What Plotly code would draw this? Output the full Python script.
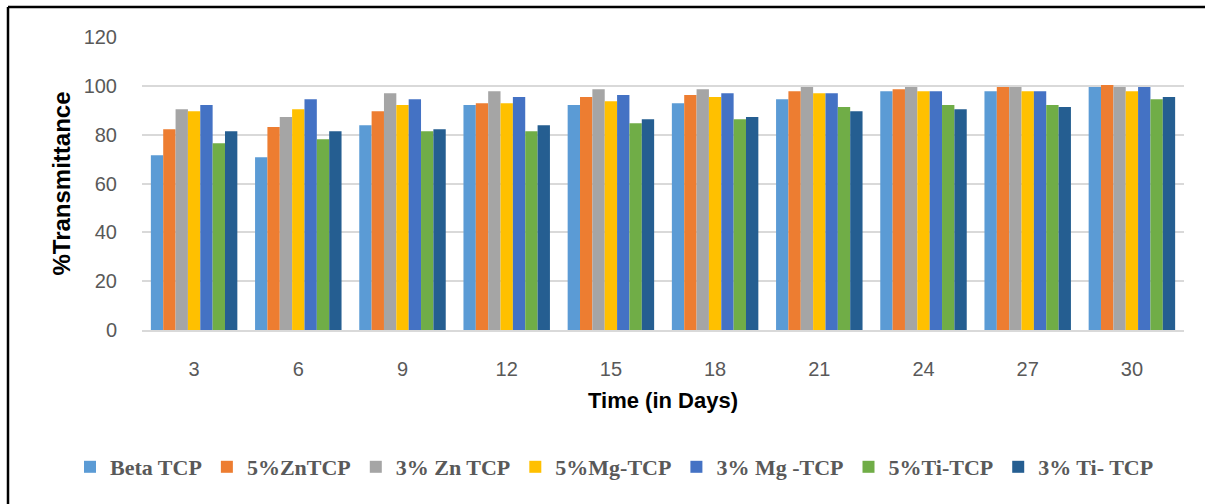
import plotly.graph_objects as go

days = ["3", "6", "9", "12", "15", "18", "21", "24", "27", "30"]
series_names = ["Beta TCP", "5%ZnTCP", "3% Zn TCP", "5%Mg-TCP", "3% Mg -TCP", "5%Ti-TCP", "3% Ti- TCP"]
beta_tcp = [71.6, 70.8, 83.9, 92.1, 92.1, 92.9, 94.5, 97.8, 97.8, 99.5]
zn5_tcp = [82.2, 83.1, 89.6, 92.9, 95.4, 96.2, 97.8, 98.6, 99.5, 100.3]
zn3_tcp = [90.4, 87.2, 97.0, 97.8, 98.6, 98.6, 99.5, 99.5, 99.5, 99.5]
mg5_tcp = [89.6, 90.4, 92.1, 92.9, 93.7, 95.4, 97.0, 97.8, 97.8, 97.8]
mg3_tcp = [92.1, 94.5, 94.5, 95.4, 96.2, 97.0, 97.0, 97.8, 97.8, 99.5]
ti5_tcp = [76.5, 78.1, 81.4, 81.4, 84.7, 86.3, 91.3, 92.1, 92.1, 94.5]
ti3_tcp = [81.4, 81.4, 82.2, 83.9, 86.3, 87.2, 89.6, 90.4, 91.3, 95.4]
series_values = [beta_tcp, zn5_tcp, zn3_tcp, mg5_tcp, mg3_tcp, ti5_tcp, ti3_tcp]
colors = ["#5B9BD5", "#ED7D31", "#A5A5A5", "#FFC000", "#4472C4", "#70AD47", "#255E91"]
y_ticks = [0, 20, 40, 60, 80, 100, 120]

fig = go.Figure()
for name, vals, col in zip(series_names, series_values, colors):
    fig.add_trace(go.Bar(x=days, y=vals, name=name, marker=dict(color=col, line=dict(width=0))))

L, R, T, B = 142, 21, 37, 174
W, H = 1205, 504
pw, ph = W - L - R, H - T - B

frame_left = (8 - L) / pw
frame_top = (H - B - 7) / ph

fig.update_layout(
    width=W, height=H,
    margin=dict(l=L, r=R, t=T, b=B, autoexpand=False),
    paper_bgcolor="white", plot_bgcolor="white",
    barmode="group", bargap=0.17, bargroupgap=0,
    font=dict(family="Liberation Sans", color="#595959"),
    showlegend=True,
    legend=dict(
        orientation="h", xref="paper", yref="paper",
        x=(70 - L) / pw, xanchor="left", y=(H - B - 467) / ph, yanchor="middle",
        font=dict(family="Liberation Serif", size=22, color="#595959", weight="bold"),
        itemwidth=30, tracegroupgap=0, bgcolor="rgba(0,0,0,0)",
    ),
    xaxis=dict(
        type="category", showgrid=False, showline=True, linecolor="#D9D9D9", linewidth=2,
        ticks="", tickfont=dict(size=20, color="#595959"), ticklabelstandoff=20,
        title=dict(text="Time (in Days)", font=dict(size=22, color="black", weight="bold"), standoff=14),
        automargin=False,
    ),
    yaxis=dict(
        range=[0, 120], tickvals=y_ticks, showgrid=True, gridcolor="#D9D9D9", gridwidth=1.6,
        zeroline=False, ticks="", tickfont=dict(size=20, color="#595959"), ticklabelstandoff=24,
        title=dict(text="%Transmittance", font=dict(size=24, color="black", weight="bold"), standoff=6),
        automargin=False,
    ),
    shapes=[
        dict(type="line", xref="paper", yref="paper", x0=frame_left, x1=frame_left,
             y0=-1.0, y1=frame_top, line=dict(color="black", width=2.5), layer="above"),
        dict(type="line", xref="paper", yref="paper", x0=frame_left, x1=1.2,
             y0=frame_top, y1=frame_top, line=dict(color="black", width=2.5), layer="above"),
    ],
)

fig.write_html("out.html", config={"displayModeBar": False})
